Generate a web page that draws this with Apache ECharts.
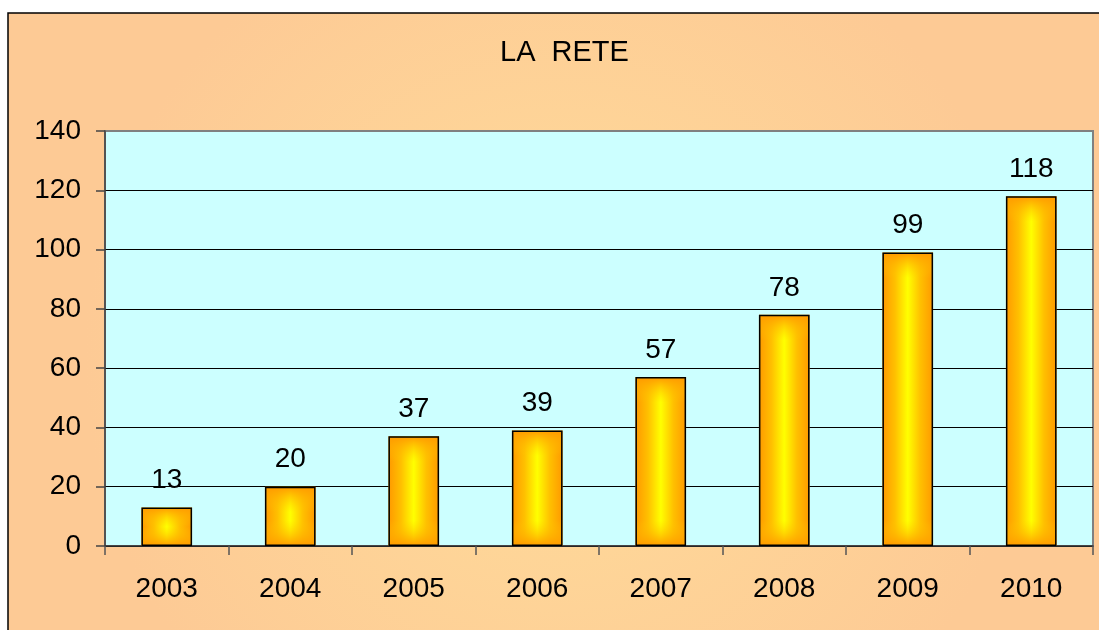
<!DOCTYPE html>
<html>
<head>
<meta charset="utf-8">
<script src="https://cdn.jsdelivr.net/npm/echarts@6/dist/echarts.min.js"></script>
<style>
html,body{margin:0;padding:0;background:#fff;}
#c{width:1099px;height:630px;}
</style>
</head>
<body>
<div id="c"></div>
<script>
var title = 'LA  RETE';
var categories = ['2003','2004','2005','2006','2007','2008','2009','2010'];
var values = [13, 20, 37, 39, 57, 78, 99, 118];
var yTicks = { min: 0, max: 140, interval: 20 };

var chart = echarts.init(document.getElementById('c'), null, { renderer: 'canvas' });
var FONT = '"Liberation Sans", Arial, sans-serif';

function overlayColor(params) {
  var frac = Math.min(0.5, 8.6 / params.value);
  return new echarts.graphic.LinearGradient(0, 0, 0, 1, [
    { offset: 0, color: 'rgba(255,153,0,1)' },
    { offset: frac, color: 'rgba(255,200,0,0)' },
    { offset: 1 - frac, color: 'rgba(255,200,0,0)' },
    { offset: 1, color: 'rgba(255,153,0,1)' }
  ]);
}

var option = {
  backgroundColor: '#ffffff',
  animation: false,
  graphic: [{
    type: 'rect',
    z: -100,
    silent: true,
    shape: { x: 8, y: 13, width: 1100, height: 630 },
    style: {
      fill: new echarts.graphic.RadialGradient(0.5, 0.55, 0.75, [
        { offset: 0, color: '#FFDD9A' },
        { offset: 1, color: '#FDCA95' }
      ]),
      stroke: '#000',
      lineWidth: 1.5
    }
  }],
  title: {
    text: title,
    left: 495,
    top: 33,
    textStyle: { fontFamily: FONT, fontSize: 29, fontWeight: 'normal', color: '#000' }
  },
  grid: {
    left: 105, top: 131, right: 6, bottom: 84,
    show: true,
    backgroundColor: '#CCFFFF',
    borderColor: '#808080',
    borderWidth: 2
  },
  xAxis: {
    type: 'category',
    data: categories,
    boundaryGap: true,
    axisLine: { lineStyle: { color: '#333', width: 1.5 } },
    axisTick: { show: true, length: 9, lineStyle: { color: '#555', width: 1.5 } },
    axisLabel: { fontFamily: FONT, fontSize: 28, color: '#000', margin: 29 }
  },
  yAxis: {
    type: 'value',
    min: yTicks.min, max: yTicks.max, interval: yTicks.interval,
    axisLine: { show: true, lineStyle: { color: '#444', width: 1.5 } },
    axisTick: { show: true, length: 9, lineStyle: { color: '#444', width: 1.5 } },
    axisLabel: { fontFamily: FONT, fontSize: 28, color: '#000', margin: 24 },
    splitLine: { show: true, lineStyle: { color: ['#000','#000','#000','#000','#000','#000','#000','#808080'], width: 1 } }
  },
  series: [{
    type: 'bar',
    data: values,
    barWidth: '41%',
    z: 2,
    itemStyle: {
      color: new echarts.graphic.LinearGradient(0, 0, 1, 0, [
        { offset: 0, color: '#FF9900' },
        { offset: 0.25, color: '#FFC000' },
        { offset: 0.5, color: '#FFFF00' },
        { offset: 0.75, color: '#FFC000' },
        { offset: 1, color: '#FF9900' }
      ])
    },
    label: {
      show: true, position: 'top', distance: 13,
      fontFamily: FONT, fontSize: 28, color: '#000'
    }
  }, {
    type: 'bar',
    data: values,
    barWidth: '41%',
    barGap: '-100%',
    z: 3,
    itemStyle: {
      color: overlayColor,
      borderColor: '#000',
      borderWidth: 1.5
    }
  }]
};
chart.setOption(option);
</script>
</body>
</html>
